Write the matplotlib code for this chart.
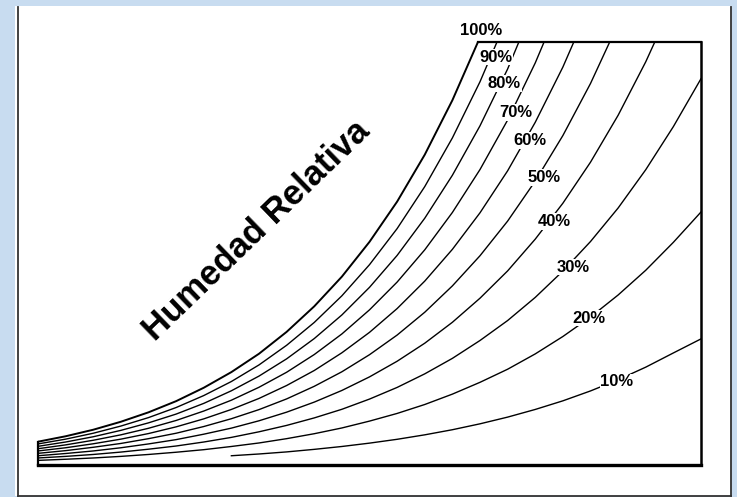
import numpy as np
import matplotlib
matplotlib.use('Agg')
import matplotlib.pyplot as plt
from matplotlib.patches import Rectangle
from matplotlib.lines import Line2D

nan = np.nan

# temperatura (eje x) y razon de humedad (eje y)
temp = [-10, -7.5, -5, -2.5, 0, 2.5, 5, 7.5, 10, 12.5, 15, 17.5, 20, 22.5,
        25, 27.5, 30, 32.5, 35, 37.5, 40, 42.5, 45, 47.5, 50]

rh_100 = [1.46, 1.80, 2.21, 2.71, 3.30, 4.00, 4.84, 5.82, 6.97, 8.34, 9.94, 11.80,
          13.98, 16.50, 19.44, 22.85, 26.79]
rh_90 = [1.32, 1.62, 1.99, 2.44, 2.97, 3.60, 4.35, 5.23, 6.27, 7.50, 8.93, 10.60,
         12.55, 14.81, 17.44, 20.49, 24.01, 28.06]
rh_80 = [1.17, 1.44, 1.77, 2.17, 2.64, 3.19, 3.86, 4.65, 5.57, 6.65, 7.92, 9.40,
         11.13, 13.13, 15.46, 18.15, 21.25, 24.81, 28.96]
rh_70 = [1.02, 1.26, 1.55, 1.89, 2.30, 2.79, 3.38, 4.06, 4.87, 5.81, 6.92, 8.21,
         9.72, 11.46, 13.48, 15.82, 18.51, 21.61, 25.19, 29.29]
rh_60 = [0.88, 1.08, 1.33, 1.62, 1.97, 2.39, 2.89, 3.48, 4.17, 4.98, 5.92, 7.03,
         8.31, 9.80, 11.52, 13.51, 15.80, 18.43, 21.47, 24.93, 28.90]
rh_50 = [0.73, 0.90, 1.11, 1.35, 1.65, 1.99, 2.41, 2.90, 3.47, 4.14, 4.93, 5.84,
         6.91, 8.14, 9.57, 11.22, 13.11, 15.28, 17.79, 20.64, 23.90, 27.64]
rh_40 = [0.58, 0.72, 0.88, 1.08, 1.32, 1.59, 1.93, 2.31, 2.77, 3.31, 3.94, 4.67,
         5.52, 6.50, 7.63, 8.94, 10.45, 12.16, 14.15, 16.40, 18.97, 21.91, 25.26, 29.05]
rh_30 = [0.44, 0.54, 0.66, 0.81, 0.99, 1.19, 1.44, 1.73, 2.08, 2.48, 2.95, 3.49,
         4.13, 4.86, 5.71, 6.68, 7.80, 9.05, 10.50, 12.15, 14.00, 16.10, 18.50, 21.20, 24.20]
rh_20 = [0.29, 0.36, 0.44, 0.54, 0.66, 0.80, 0.96, 1.16, 1.38, 1.65, 1.96, 2.32,
         2.75, 3.23, 3.79, 4.44, 5.18, 6.00, 6.96, 8.05, 9.27, 10.65, 12.20, 13.95, 15.85]
rh_10 = [nan, nan, nan, nan, nan, nan, nan, 0.58, 0.69, 0.82, 0.98, 1.16,
         1.37, 1.61, 1.89, 2.21, 2.58, 3.00, 3.48, 4.02, 4.64, 5.34, 6.13, 7.02, 7.90]

curves = [rh_100, rh_90, rh_80, rh_70, rh_60, rh_50, rh_40, rh_30, rh_20, rh_10]
labels = ["100%", "90%", "80%", "70%", "60%", "50%", "40%", "30%", "20%", "10%"]

# posicion de las etiquetas sobre cada curva
label_pos = [(30.1, 27.2), (31.45, 25.55), (32.2, 23.9), (33.25, 22.1), (34.5, 20.35),
             (35.8, 18.0), (36.7, 15.25), (38.4, 12.4), (39.85, 9.2), (42.4, 5.2)]

W, H = 737, 497
fig = plt.figure(figsize=(W / 100, H / 100), dpi=100, facecolor='#c8dcf0')

# panel blanco con borde
fig.add_artist(Rectangle((15 / W, 1 / H), (731 - 15) / W, (490) / H,
                         transform=fig.transFigure, fc='white', ec='none', zorder=-5))
for xs, ys in [([18, 18], [1.5, 490]), ([18, 731], [1.5, 1.5]), ([731, 731], [1.5, 490])]:
    fig.add_artist(Line2D([x / W for x in xs], [y / H for y in ys],
                          transform=fig.transFigure, color='#333333', lw=1.3, zorder=-4))

ax = fig.add_axes([38 / W, 32 / H, 663 / W, 423 / H])
ax.set_zorder(2)
ax.set_xlim(-10, 50)
ax.set_ylim(0, 26.5)
ax.set_xticks([])
ax.set_yticks([])
ax.set_facecolor('white')

for i, (w, lab) in enumerate(zip(curves, labels)):
    lw = 1.4 if i == 0 else 1.0
    ax.plot(temp[:len(w)], w, color='black', lw=lw, zorder=3)
    x, y = label_pos[i]
    ax.text(x, y, lab, ha='center', va='center', fontsize=12, fontweight='bold',
            family='Liberation Sans', zorder=5, clip_on=False,
            bbox=dict(boxstyle='square,pad=0.05', fc='white', ec='none'))

# el borde superior empieza donde la curva de saturacion toca el tope
t_top = np.interp(26.5, rh_100, temp[:len(rh_100)])
ax.spines['top'].set_bounds(t_top, 50)
ax.spines['left'].set_bounds(0, rh_100[0])
ax.spines['top'].set_linewidth(1.6)
ax.spines['left'].set_linewidth(1.6)
ax.spines['right'].set_linewidth(1.8)
ax.spines['bottom'].set_linewidth(2.4)

ax.text(9.8, 14.7, "Humedad Relativa", rotation=44, rotation_mode='anchor',
        ha='center', va='center', fontsize=25, fontweight='bold',
        family='Liberation Sans')

fig.savefig('out.png', dpi=100, facecolor=fig.get_facecolor())
